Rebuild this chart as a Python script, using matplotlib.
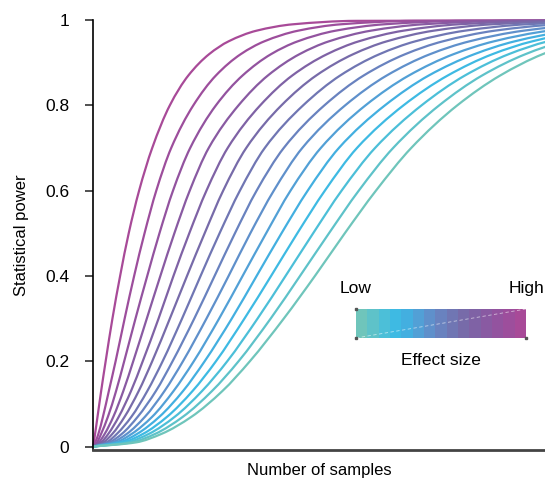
import numpy as np
import matplotlib
matplotlib.use('Agg')
import matplotlib.pyplot as plt
from matplotlib.colors import ListedColormap
from matplotlib.path import Path
from matplotlib.patches import PathPatch

plt.rcParams['font.family'] = ['Liberation Sans', 'DejaVu Sans']

# power reached (y) and the number of samples needed to reach it, one row per curve
power_levels = [0, 0.01, 0.03, 0.07, 0.13, 0.2, 0.3, 0.4, 0.5, 0.6, 0.7, 0.8,
                0.87, 0.92, 0.95, 0.975, 0.99, 0.998, 1.0]

# highest effect size first
samples_needed = [
    [0, 0.17, 0.46, 1.0, 1.8, 2.8, 4.3, 6.0, 7.9, 10.2, 13.1, 17.0, 21.1, 25.7, 30.0, 36.2, 44.3, 58.2, 200],
    [0, 0.5, 1.2, 2.2, 3.5, 5.0, 7.0, 9.1, 11.4, 14.0, 17.3, 22.2, 27.2, 32.7, 37.9, 45.4, 54.9, 71.2, 200],
    [0, 0.9, 1.8, 3.3, 5.1, 6.9, 9.4, 12.0, 14.7, 17.7, 21.5, 27.2, 33.1, 39.4, 45.3, 53.7, 64.5, 82.4, 200],
    [0, 1.3, 2.6, 4.5, 6.7, 8.9, 11.9, 14.9, 18.0, 21.4, 25.6, 32.2, 38.7, 45.7, 52.2, 61.5, 73.1, 92.4, 200],
    [0, 1.8, 3.4, 5.7, 8.4, 11.0, 14.5, 17.8, 21.3, 25.1, 29.8, 37.0, 44.1, 51.8, 58.8, 68.7, 81.0, 101.4, 200],
    [0, 2.3, 4.3, 7.0, 10.1, 13.1, 17.0, 20.8, 24.7, 28.8, 33.9, 41.7, 49.4, 57.6, 65.0, 75.4, 88.4, 109.5, 200],
    [0, 3.0, 5.3, 8.5, 12.0, 15.4, 19.7, 23.8, 28.0, 32.5, 38.0, 46.5, 54.7, 63.4, 71.3, 82.3, 95.9, 118.0, 200],
    [0, 3.6, 6.4, 9.9, 13.9, 17.6, 22.4, 26.9, 31.4, 36.2, 42.2, 51.2, 59.9, 69.1, 77.4, 88.9, 103.1, 125.9, 200],
    [0, 4.3, 7.5, 11.5, 15.8, 19.9, 25.1, 30.0, 34.8, 40.0, 46.3, 55.8, 65.0, 74.6, 83.3, 95.3, 109.9, 133.4, 200],
    [0, 5.1, 8.6, 13.1, 17.8, 22.3, 27.9, 33.1, 38.3, 43.7, 50.4, 60.3, 69.9, 79.8, 88.7, 100.9, 115.9, 139.6, 200],
    [0, 5.9, 9.8, 14.7, 19.9, 24.7, 30.7, 36.2, 41.7, 47.5, 54.4, 64.6, 74.3, 84.4, 93.3, 105.5, 120.3, 143.7, 200],
    [0, 6.7, 11.1, 16.4, 22.0, 27.2, 33.5, 39.4, 45.2, 51.3, 58.4, 68.7, 78.5, 88.4, 97.2, 109.2, 123.6, 146.2, 200],
    [0, 7.6, 12.4, 18.1, 24.1, 29.7, 36.4, 42.6, 48.7, 55.0, 62.4, 72.7, 82.3, 92.0, 100.6, 112.2, 126.0, 147.4, 200],
    [0, 8.6, 13.8, 19.9, 26.3, 32.2, 39.3, 45.8, 52.2, 58.8, 66.4, 76.6, 86.1, 95.7, 104.0, 115.3, 128.6, 149.0, 200],
    [0, 9.6, 15.2, 21.8, 28.6, 34.7, 42.2, 49.1, 55.7, 62.6, 70.4, 80.6, 90.1, 99.5, 107.8, 118.8, 131.8, 151.6, 200],
]

# low -> high effect size
effect_colors = ['#6fc5bb', '#5ec2c9', '#4cbfd8', '#3ebae3', '#43afe0',
                 '#52a0d6', '#5f90cb', '#6982bf', '#7076b3', '#776ba9',
                 '#7f62a5', '#895aa2', '#93539f', '#9d4e9c', '#a84a98']


def smooth_path(x, y):
    # monotone cubic (pchip style) through the points, drawn as bezier segments
    x = np.asarray(x, float)
    y = np.asarray(y, float)
    h = np.diff(x)
    d = np.diff(y) / h
    m = np.zeros_like(y)
    m[0] = d[0]
    m[-1] = d[-1]
    for k in range(1, len(x) - 1):
        if d[k - 1] * d[k] <= 0:
            m[k] = 0
        else:
            w1 = 2 * h[k] + h[k - 1]
            w2 = h[k] + 2 * h[k - 1]
            m[k] = (w1 + w2) / (w1 / d[k - 1] + w2 / d[k])
    verts = [(x[0], y[0])]
    codes = [Path.MOVETO]
    for k in range(len(h)):
        verts += [(x[k] + h[k] / 3, y[k] + m[k] * h[k] / 3),
                  (x[k + 1] - h[k] / 3, y[k + 1] - m[k + 1] * h[k] / 3),
                  (x[k + 1], y[k + 1])]
        codes += [Path.CURVE4] * 3
    return Path(verts, codes)


fig = plt.figure(figsize=(5.45, 4.8), dpi=100)
ax = fig.add_axes([93 / 545, 30 / 480, 452 / 545, 430 / 480])

for row, color in zip(samples_needed, effect_colors[::-1]):
    ax.add_patch(PathPatch(smooth_path(row, power_levels), fill=False, edgecolor=color,
                           lw=1.6, capstyle='round', joinstyle='round', clip_on=False))

ax.set_xlim(0, 100)
ax.set_ylim(-0.008, 1.0)
ax.spines['top'].set_visible(False)
ax.spines['right'].set_visible(False)
ax.spines['left'].set_linewidth(1.2)
ax.spines['left'].set_color('black')
ax.spines['bottom'].set_linewidth(2.0)
ax.spines['bottom'].set_color('#444444')
ax.set_xticks([])
ax.set_yticks([0, 0.2, 0.4, 0.6, 0.8, 1.0])
ax.set_yticklabels(['0', '0.2', '0.4', '0.6', '0.8', '1'])
ax.tick_params(axis='y', length=6, width=1.2, color='#333333', pad=11, labelsize=12.5)
ax.set_ylabel('Statistical power', fontsize=12, labelpad=12)
ax.set_xlabel('Number of samples', fontsize=12, labelpad=9)

# effect size colour key
cax = fig.add_axes([356 / 545, (480 - 338) / 480, 170 / 545, 29 / 480])
cax.imshow(np.arange(len(effect_colors)).reshape(1, -1), cmap=ListedColormap(effect_colors),
           aspect='auto', extent=[0, 1, 0, 1], interpolation='nearest')
cax.plot([0, 1], [0, 1], color='white', lw=0.6, ls=(0, (4, 3)), alpha=0.6)
cax.plot([0, 0, 1], [0, 1, 0], ls='none', marker='s', ms=1.5, color='#555555', clip_on=False)
cax.set_xlim(0, 1)
cax.set_ylim(0, 1)
cax.set_axis_off()
cax.text(0, 1.69, 'Low', ha='center', va='center', transform=cax.transAxes, fontsize=12.5)
cax.text(1, 1.69, 'High', ha='center', va='center', transform=cax.transAxes, fontsize=12.5)
cax.text(0.5, -0.76, 'Effect size', ha='center', va='center', transform=cax.transAxes, fontsize=12.5)

fig.savefig('out.png', dpi=100)
